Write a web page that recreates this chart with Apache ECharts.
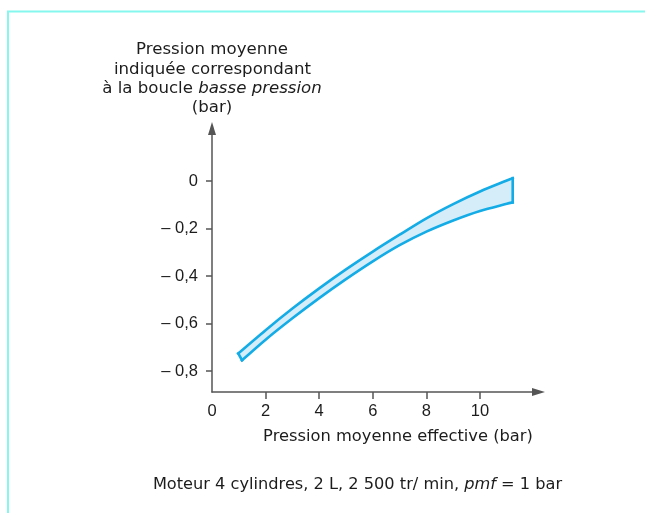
<!DOCTYPE html>
<html>
<head>
<meta charset="utf-8">
<script src="https://cdn.jsdelivr.net/npm/echarts@6/dist/echarts.min.js"></script>
<style>
  html, body { margin: 0; padding: 0; background: #fff; }
  #chart { width: 645px; height: 513px; }
</style>
</head>
<body>
<div id="chart"></div>
<script>
// Upper and lower edges of the band (pression moyenne effective en bar → PMI basse pression en bar)
const upperX = [0.98, 2, 3, 4, 5, 6, 7, 8, 9, 10, 11, 11.22];
const upperY = [-0.726, -0.628, -0.537, -0.452, -0.372, -0.297, -0.226, -0.157, -0.097, -0.044, 0.002, 0.012];
const lowerX = [1.12, 2, 3, 4, 5, 6, 7, 8, 9, 10, 11, 11.22];
const lowerY = [-0.755, -0.668, -0.578, -0.493, -0.413, -0.338, -0.270, -0.213, -0.166, -0.126, -0.096, -0.090];

// Tick values
const xTicks = [0, 2, 4, 6, 8, 10];
const yTicks = [0, -0.2, -0.4, -0.6, -0.8];

const FONT = "'Liberation Sans', Arial, sans-serif";
const TITLE_FONT = "'DejaVu Sans', 'Liberation Sans', sans-serif";
const TEXT = '#1c1c1c';
const AXIS = '#555555';

const chart = echarts.init(document.getElementById('chart'), null, { renderer: 'canvas' });

function yLabel(v) {
  if (Math.abs(v) < 1e-9) return '0';
  return '\u2013 ' + Math.abs(v).toFixed(1).replace('.', ',');
}

const option = {
  backgroundColor: '#ffffff',
  animation: false,
  grid: { left: 212, top: 128.5, width: 326.5, height: 263.5, containLabel: false },
  xAxis: {
    type: 'value',
    min: 0,
    max: 12.183,
    splitLine: { show: false },
    axisLine: {
      show: true, onZero: false,
      lineStyle: { color: AXIS, width: 1.5 },
      symbol: ['none', 'triangle'],
      symbolSize: [8, 13]
    },
    // no tick at 0: the vertical axis sits there
    axisTick: { show: true, inside: false, length: 7, lineStyle: { color: AXIS, width: 1.5 }, customValues: xTicks.filter(v => v !== 0) },
    axisLabel: { show: true, customValues: xTicks, margin: 11, color: TEXT, fontFamily: FONT, fontSize: 16.5,
      formatter: v => String(v) }
  },
  yAxis: {
    type: 'value',
    min: -0.8884,
    max: 0.2211,
    splitLine: { show: false },
    axisLine: {
      show: true, onZero: false,
      lineStyle: { color: AXIS, width: 1.5 },
      symbol: ['none', 'triangle'],
      symbolSize: [8, 13]
    },
    axisTick: { show: true, inside: false, length: 6, lineStyle: { color: AXIS, width: 1.5 }, customValues: yTicks },
    axisLabel: { show: true, customValues: yTicks, margin: 14, color: TEXT, fontFamily: FONT, fontSize: 16.5,
      formatter: yLabel }
  },
  series: [{
    type: 'custom',
    coordinateSystem: 'cartesian2d',
    data: [[upperX[0], upperY[0]]],
    renderItem: function (params, api) {
      const up = upperX.map((x, i) => api.coord([x, upperY[i]]));
      const lo = lowerX.map((x, i) => api.coord([x, lowerY[i]]));
      const edge = { stroke: '#13ace6', lineWidth: 2.6, fill: null, lineJoin: 'miter', lineCap: 'square' };
      return {
        type: 'group',
        children: [
          { type: 'polygon', shape: { points: up.concat(lo.slice().reverse()) }, style: { fill: '#d5ecf9', stroke: null } },
          { type: 'polyline', shape: { points: up, smooth: 0.3 }, style: edge },
          { type: 'polyline', shape: { points: lo, smooth: 0.3 }, style: edge },
          { type: 'line', shape: { x1: up[0][0], y1: up[0][1], x2: lo[0][0], y2: lo[0][1] }, style: edge },
          { type: 'line', shape: { x1: up[up.length - 1][0], y1: up[up.length - 1][1], x2: lo[lo.length - 1][0], y2: lo[lo.length - 1][1] }, style: edge }
        ]
      };
    }
  }],
  graphic: [
    // frame
    { type: 'line', shape: { x1: 7, y1: 11.5, x2: 645, y2: 11.5 }, style: { stroke: '#85f7ee', lineWidth: 2 } },
    { type: 'line', shape: { x1: 8, y1: 11, x2: 8, y2: 513 }, style: { stroke: '#85f7ee', lineWidth: 2 } },
    // y axis title
    { type: 'text', x: 212, y: 49.5, style: { text: 'Pression moyenne', font: '16.6px ' + TITLE_FONT, fill: TEXT, align: 'center', verticalAlign: 'middle' } },
    { type: 'text', x: 212.5, y: 69.2, style: { text: 'indiquée correspondant', font: '16.6px ' + TITLE_FONT, fill: TEXT, align: 'center', verticalAlign: 'middle' } },
    { type: 'text', x: 212, y: 88.7, style: {
        text: '{n|à la boucle }{i|basse pression}', align: 'center', verticalAlign: 'middle',
        rich: {
          n: { font: '16.6px ' + TITLE_FONT, fill: TEXT },
          i: { font: 'italic 16.6px ' + TITLE_FONT, fill: TEXT }
        } } },
    { type: 'text', x: 212, y: 108, style: { text: '(bar)', font: '16.6px ' + TITLE_FONT, fill: TEXT, align: 'center', verticalAlign: 'middle' } },
    // x axis title
    { type: 'text', x: 398, y: 437, style: { text: 'Pression moyenne effective (bar)', font: '16.3px ' + TITLE_FONT, fill: TEXT, align: 'center', verticalAlign: 'middle' } },
    // caption
    { type: 'text', x: 357.5, y: 484.5, style: {
        text: '{n|Moteur 4 cylindres, 2 L, 2 500 tr/ min, }{i|pmf}{n| = 1 bar}', align: 'center', verticalAlign: 'middle',
        rich: {
          n: { font: '16.2px ' + TITLE_FONT, fill: TEXT },
          i: { font: 'italic 16.2px ' + TITLE_FONT, fill: TEXT }
        } } }
  ]
};

chart.setOption(option);
</script>
</body>
</html>
